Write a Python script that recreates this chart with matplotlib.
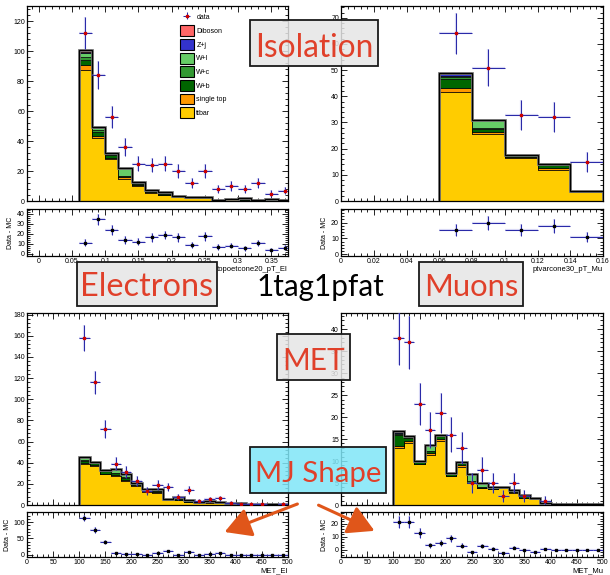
"""
1tag1pfat: isolation / MET control plots for electrons and muons
"""

import numpy as np
import matplotlib.pyplot as plt
from matplotlib.patches import Rectangle, FancyArrowPatch, Patch
from matplotlib.ticker import MultipleLocator, AutoMinorLocator, FuncFormatter
from matplotlib.colors import to_rgba

plt.rcParams['font.family'] = ['Liberation Sans', 'DejaVu Sans']

W, H = 610, 575

# ---- electron isolation (topoetcone20_pT_El) ----
iso_el_edges = np.linspace(0.06, 0.38, 17)
iso_el_data = [112, 84, 56, 36, 25, 24, 25, 20, 12, 20, 8, 10, 8, 12, 5, 7]
iso_el_ttbar = [87.5, 42, 28, 15, 10, 5.5, 4, 2.5, 2.2, 1.8, 0.7, 1.1, 1.0, 0.7, 0.8, 0.4]
iso_el_stop = [3.5, 1.5, 1.0, 0.8, 0.5, 0.5, 0.3, 0.3, 0.3, 0.2, 0, 0, 0, 0, 0, 0]
iso_el_wb = [3.0, 2.5, 1.5, 0.7, 1.0, 1.0, 0.7, 0.5, 0.5, 0.5, 0.3, 0.4, 0.4, 0.3, 0.4, 0.2]
iso_el_wc = [2.0, 1.5, 0.5, 0.5, 0.5, 0.3, 0.5, 0.2, 0, 0, 0, 0, 0.3, 0, 0, 0]
iso_el_wl = [3.0, 1.5, 0.5, 5.0, 0.5, 0.2, 0.5, 0, 0, 0, 0, 0, 0.5, 0, 0, 0]
iso_el_zj = [0.5, 0.3, 0.3, 0, 0, 0, 0, 0, 0, 0, 0, 0, 0, 0, 0, 0]
iso_el_db = [1.0, 0.2, 0.2, 0, 0, 0, 0, 0, 0, 0, 0, 0, 0, 0, 0, 0]

# ---- muon isolation (ptvarcone30_pT_Mu) ----
iso_mu_edges = np.linspace(0.06, 0.16, 6)
iso_mu_data = [64, 51, 33, 32, 15]
iso_mu_ttbar = [41.5, 25.5, 16.5, 11.8, 3.3]
iso_mu_stop = [1.5, 1.0, 0.3, 0.7, 0.3]
iso_mu_wb = [3.5, 1.0, 0.7, 1.3, 0.4]
iso_mu_wc = [0.7, 0.3, 0.2, 0.3, 0]
iso_mu_wl = [0.7, 3.3, 0, 0, 0]
iso_mu_zj = [0.5, 0, 0, 0, 0]
iso_mu_db = [0.4, 0, 0, 0, 0]

# ---- MET, electron channel ----
met_edges = np.linspace(100, 500, 21)
met_el_data = [158, 116, 72, 39, 31, 23, 13.5, 19, 17, 8, 14, 3.5, 5.4, 6.3, 2, 1, 1, 1, 0, 1]
met_el_ttbar = [38.5, 37, 29, 27.5, 23, 18, 12.5, 11.5, 4.7, 4.7, 3.0, 2.2, 2.3, 1.6, 1.4, 0.8, 0.7, 0.7, 0.4, 0.5]
met_el_stop = [1.5, 1.0, 0.5, 0.5, 0.5, 0.5, 0.5, 0.5, 0.3, 0, 0.3, 0, 0.2, 0, 0, 0, 0, 0, 0, 0]
met_el_wb = [2.0, 2.0, 2.5, 2.0, 2.0, 2.0, 2.0, 1.5, 1.0, 1.0, 1.2, 0.9, 1.0, 0.9, 0.9, 0.7, 0.5, 0.5, 0.2, 0.3]
met_el_wc = [0.5, 0.5, 0.5, 0.5, 0.5, 0.5, 0.3, 0, 0, 0, 0, 0, 0, 0, 0, 0, 0, 0, 0, 0]
met_el_wl = [2.5, 0.5, 0.5, 3.5, 3.0, 0, 0, 1.5, 0, 2.0, 0, 0, 0, 0, 0, 0, 0, 0, 0, 0]
met_el_zj = [0.3, 0, 0, 0, 0, 0, 0, 0, 0, 0, 0, 0, 0, 0, 0, 0, 0, 0, 0, 0]
met_el_db = [0.2, 0, 0, 0, 0, 0, 0, 0, 0, 0, 0, 0, 0, 0, 0, 0, 0, 0, 0, 0]

# ---- MET, muon channel ----
met_mu_data = [38, 37, 23, 17, 21, 16, 13, 5, 8, 5, 2, 5, 2, 0, 1, 0, 0, 0, 0, 0]
met_mu_ttbar = [12.9, 14.0, 9.3, 11.3, 14.6, 6.6, 8.7, 5.0, 3.9, 3.6, 3.9, 2.7, 1.7, 1.4, 0.3, 0.2, 0.2, 0.3, 0.2, 0.2]
met_mu_stop = [0.6, 0.5, 0, 0.6, 0.4, 0, 0.4, 0.1, 0, 0, 0, 0.2, 0, 0, 0, 0, 0, 0, 0, 0]
met_mu_wb = [2.5, 0.8, 0.4, 0.5, 0.7, 0.5, 0.5, 0.3, 0.2, 0.4, 0.3, 0.5, 0.5, 0.3, 0.2, 0, 0, 0, 0, 0]
met_mu_wc = [0.2, 0.2, 0, 0, 0.2, 0, 0, 0, 0, 0, 0, 0, 0, 0, 0, 0, 0, 0, 0, 0]
met_mu_wl = [0.3, 0.2, 0.3, 1.2, 0, 0.2, 0.2, 1.6, 0.9, 0, 0, 0, 0, 0, 0, 0, 0, 0, 0, 0]
met_mu_zj = [0.1, 0, 0, 0, 0, 0, 0, 0, 0, 0, 0, 0, 0, 0, 0, 0, 0, 0, 0, 0]
met_mu_db = [0.3, 0, 0, 0, 0, 0, 0, 0, 0, 0, 0, 0, 0, 0, 0, 0, 0, 0, 0, 0]

SAMPLES = ['ttbar', 'single top', 'W+b', 'W+c', 'W+l', 'Z+j', 'Diboson']
COLORS = {'ttbar': '#ffcc00', 'single top': '#ff9900', 'W+b': '#006600',
          'W+c': '#339933', 'W+l': '#66cc66', 'Z+j': '#3333cc', 'Diboson': '#ff6666'}

fig = plt.figure(figsize=(W / 100, H / 100), dpi=100)


def add_ax(x0, y0, x1, y1):
    # pixel box (top-left origin) -> figure fraction
    return fig.add_axes([x0 / W, 1 - y1 / H, (x1 - x0) / W, (y1 - y0) / H])


def root_style(ax, xmajor, ymajor):
    ax.xaxis.set_major_locator(MultipleLocator(xmajor))
    ax.yaxis.set_major_locator(MultipleLocator(ymajor))
    ax.xaxis.set_minor_locator(AutoMinorLocator(5))
    ax.yaxis.set_minor_locator(AutoMinorLocator(5))
    ax.tick_params(which='both', direction='in', top=True, right=True,
                   labelsize=5, width=0.6, pad=1.5)
    ax.tick_params(which='major', length=4)
    ax.tick_params(which='minor', length=2)
    fmt = FuncFormatter(lambda v, p: '%g' % round(v, 6))
    ax.xaxis.set_major_formatter(fmt)
    ax.yaxis.set_major_formatter(fmt)
    for s in ax.spines.values():
        s.set_linewidth(0.9)


def draw_data(ax, centers, values, halfw, marker_color, ms):
    values = np.asarray(values, dtype=float)
    err = np.sqrt(np.clip(values, 0, None))
    ax.errorbar(centers, values, xerr=halfw, yerr=err, fmt='none',
                ecolor='#9a9ae6', elinewidth=1.6, alpha=0.35, zorder=5)
    return ax.errorbar(centers, values, xerr=halfw, yerr=err, fmt='s', ms=ms,
                       mfc=marker_color, mec=marker_color, ecolor='#2a2aa8',
                       elinewidth=0.75, capsize=0, zorder=6)


def panel(box_main, box_ratio, edges, data, stack, xlim, ylim, ylim_r,
          xmajor, ymajor, ymajor_r, xlabel):
    ax = add_ax(*box_main)
    axr = add_ax(*box_ratio)
    edges = np.asarray(edges)
    centers = 0.5 * (edges[:-1] + edges[1:])
    halfw = 0.5 * (edges[1] - edges[0])

    bottom = np.zeros(len(centers))
    for name in SAMPLES:
        vals = np.asarray(stack[name], dtype=float)
        top = bottom + vals
        ax.stairs(top, edges, baseline=bottom, fill=True, facecolor=COLORS[name],
                  edgecolor='black', linewidth=0.5, zorder=2)
        bottom = top
    ax.stairs(bottom, edges, color='#7a7a7a', linewidth=2.0, zorder=3)
    ax.stairs(bottom, edges, color='black', linewidth=0.9, zorder=4)

    data = np.asarray(data, dtype=float)
    mask = data > 0
    cont = draw_data(ax, centers[mask], data[mask], halfw, '#cc0000', 1.8)
    # ratio pad: data minus total MC, poisson error of the data
    draw_data(axr, centers, data - bottom, halfw, 'black', 2.0)
    ax.set_xlim(*xlim)
    ax.set_ylim(*ylim)
    axr.set_xlim(*xlim)
    axr.set_ylim(*ylim_r)
    root_style(ax, xmajor, ymajor)
    root_style(axr, xmajor, ymajor_r)
    ax.tick_params(labelbottom=False)
    axr.set_ylabel('Data - MC', fontsize=5, labelpad=2)
    axr.set_xlabel(xlabel, fontsize=5.5, loc='right', labelpad=0.5)
    return ax, cont


def stack_of(tt, st, wb, wc, wl, zj, db):
    return dict(zip(SAMPLES, [tt, st, wb, wc, wl, zj, db]))


ax_tl, data_handle = panel((27, 6, 288, 201), (27, 209, 288, 256), iso_el_edges, iso_el_data,
                           stack_of(iso_el_ttbar, iso_el_stop, iso_el_wb, iso_el_wc, iso_el_wl,
                                    iso_el_zj, iso_el_db),
                           (-0.0175, 0.375), (0, 130), (-2, 45), 0.05, 20, 10,
                           'topoetcone20_pT_El')

panel((341, 6, 603, 201), (341, 209, 603, 256), iso_mu_edges, iso_mu_data,
      stack_of(iso_mu_ttbar, iso_mu_stop, iso_mu_wb, iso_mu_wc, iso_mu_wl, iso_mu_zj, iso_mu_db),
      (0, 0.16), (0, 74.5), (-1, 28.5), 0.02, 10, 10, 'ptvarcone30_pT_Mu')

panel((27, 313, 288, 505), (27, 512, 288, 557), met_edges, met_el_data,
      stack_of(met_el_ttbar, met_el_stop, met_el_wb, met_el_wc, met_el_wl, met_el_zj, met_el_db),
      (0, 500), (0, 181.5), (-7, 131), 50, 20, 50, 'MET_El')

panel((341, 313, 603, 505), (341, 512, 603, 557), met_edges, met_mu_data,
      stack_of(met_mu_ttbar, met_mu_stop, met_mu_wb, met_mu_wc, met_mu_wl, met_mu_zj, met_mu_db),
      (0, 500), (0, 43.7), (-5.5, 29), 50, 5, 10, 'MET_Mu')

# legend in the electron isolation panel
leg_names = ['Diboson', 'Z+j', 'W+l', 'W+c', 'W+b', 'single top', 'ttbar']
handles = [data_handle] + [Patch(facecolor=COLORS[n], edgecolor='black', linewidth=0.8)
                           for n in leg_names]
ax_tl.legend(handles, ['data'] + leg_names, loc='upper left', bbox_to_anchor=(0.585, 0.97),
             frameon=False, fontsize=5, handlelength=2.0, handleheight=2.0,
             labelspacing=0.42, handletextpad=0.4, borderpad=0, borderaxespad=0)


# annotation boxes
def label_box(x0, y0, x1, y1, text, fc, base, size, color='#e0402a', boxed=True):
    if boxed:
        fig.patches.append(Rectangle((x0 / W, 1 - y1 / H), (x1 - x0) / W, (y1 - y0) / H,
                                     transform=fig.transFigure, facecolor=to_rgba(fc, 0.85),
                                     edgecolor='#1a1a1a', linewidth=1.3, zorder=10))
    fig.text((x0 + x1) / 2 / W, 1 - base / H, text, ha='center', va='baseline',
             color=color, fontsize=size, family=['Lato', 'DejaVu Sans'], zorder=11)


label_box(250, 20, 378, 66, 'Isolation', '#e6e6e6', 57, 22.8)
label_box(77, 262, 217, 306, 'Electrons', '#e6e6e6', 296, 23.3)
label_box(257, 262, 383, 306, '1tag1pfat', 'white', 296, 21.3, color='black', boxed=False)
label_box(419, 262, 523, 306, 'Muons', '#e6e6e6', 296, 22.3)
label_box(277, 334, 350, 380, 'MET', '#e6e6e6', 370, 21.5)
label_box(250, 447, 386, 493, 'MJ Shape', '#7fe6f7', 482, 21.2)

# arrows towards the MJ-shape regions
for start, end in [((300, 503), (222, 533)), ((316, 504), (377, 532))]:
    fig.patches.append(FancyArrowPatch((start[0] / W, 1 - start[1] / H), (end[0] / W, 1 - end[1] / H),
                                       transform=fig.transFigure,
                                       arrowstyle='-|>,head_length=0.8,head_width=0.45',
                                       mutation_scale=20, color='#e0561a', linewidth=2.2,
                                       zorder=12))

fig.savefig('out.png', dpi=100)
